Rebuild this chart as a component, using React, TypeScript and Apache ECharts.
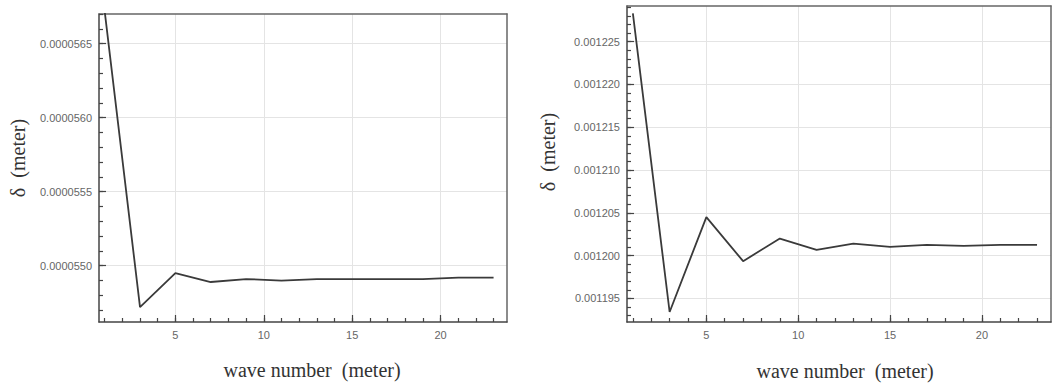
import React, { useEffect, useRef } from "react";
import * as echarts from "echarts";

// ---- data ----
const waveNumbers = [1, 3, 5, 7, 9, 11, 13, 15, 17, 19, 21, 23];
const deltaLeft = [
  0.00005672, 0.00005472, 0.00005495, 0.00005489, 0.00005491, 0.0000549,
  0.00005491, 0.00005491, 0.00005491, 0.00005491, 0.00005492, 0.00005492,
];
const deltaRight = [
  0.00122832, 0.00119341, 0.0012045, 0.00119935, 0.00120199, 0.00120067,
  0.0012014, 0.00120102, 0.00120125, 0.00120114, 0.00120125, 0.00120125,
];
const xTickLabels = [5, 10, 15, 20];
const yTickLabelsLeft = [0.000055, 0.0000555, 0.000056, 0.0000565];
const yTickLabelsRight = [0.001195, 0.0012, 0.001205, 0.00121, 0.001215, 0.00122, 0.001225];
const xTitle = "wave number  (meter)";
const yTitle = "δ  (meter)";

const xMin = 0.68;
const xMax = 23.76;
const yRangeLeft = [0.00005462, 0.0000567];
const yRangeRight = [0.00119224, 0.00122917];

const xMinorTicks: number[] = [];
for (let i = 1; i <= 23; i++) xMinorTicks.push(i);
const yMinorLeft: number[] = [];
for (let k = 547; k <= 567; k++) yMinorLeft.push(k * 1e-7);
const yMinorRight: number[] = [];
for (let k = 1193; k <= 1229; k++) yMinorRight.push(k * 1e-6);

const AXIS = "#444";
const FRAME = "#666";
const GRIDLINE = "#e4e4e4";
const LABEL = "#666";
const LINE = "#3a3a3a";
const labelFont = { color: LABEL, fontSize: 11, fontFamily: "Liberation Sans, Arial, sans-serif" };

function xAxesFor(gridIndex: number) {
  return [
    {
      gridIndex,
      type: "value",
      position: "bottom",
      min: xMin,
      max: xMax,
      axisLine: { show: true, onZero: false, lineStyle: { color: AXIS, width: 1.5 } },
      axisTick: { show: true, inside: true, length: 4, customValues: xMinorTicks, lineStyle: { color: AXIS, width: 1.2 } },
      axisLabel: { ...labelFont, margin: 7, customValues: xTickLabels, formatter: (v: number) => String(v) },
      splitLine: { show: false },
    },
    {
      gridIndex,
      type: "value",
      position: "bottom",
      min: xMin,
      max: xMax,
      axisLine: { show: false, onZero: false },
      axisTick: { show: true, inside: true, length: 7, customValues: xTickLabels, lineStyle: { color: AXIS, width: 1.2 } },
      axisLabel: { show: false },
      splitLine: { show: true, lineStyle: { color: GRIDLINE, width: 1 } },
    },
    {
      gridIndex,
      type: "value",
      position: "top",
      min: xMin,
      max: xMax,
      axisLine: { show: true, onZero: false, lineStyle: { color: FRAME, width: 1.5 } },
      axisTick: { show: false },
      axisLabel: { show: false },
      splitLine: { show: false },
    },
  ];
}

function yAxesFor(gridIndex: number, range: number[], minor: number[], major: number[], digits: number) {
  return [
    {
      gridIndex,
      type: "value",
      position: "left",
      min: range[0],
      max: range[1],
      axisLine: { show: true, onZero: false, lineStyle: { color: AXIS, width: 1.5 } },
      axisTick: { show: true, inside: true, length: 4, customValues: minor, lineStyle: { color: AXIS, width: 1.2 } },
      axisLabel: { ...labelFont, margin: 7, customValues: major, formatter: (v: number) => v.toFixed(digits) },
      splitLine: { show: false },
    },
    {
      gridIndex,
      type: "value",
      position: "left",
      min: range[0],
      max: range[1],
      axisLine: { show: false, onZero: false },
      axisTick: { show: true, inside: true, length: 7, customValues: major, lineStyle: { color: AXIS, width: 1.2 } },
      axisLabel: { show: false },
      splitLine: { show: true, lineStyle: { color: GRIDLINE, width: 1 } },
    },
    {
      gridIndex,
      type: "value",
      position: "right",
      min: range[0],
      max: range[1],
      axisLine: { show: true, onZero: false, lineStyle: { color: FRAME, width: 1.5 } },
      axisTick: { show: false },
      axisLabel: { show: false },
      splitLine: { show: false },
    },
  ];
}

const titleFont = "20px 'Liberation Serif', 'DejaVu Serif', serif";

export default function App() {
  const ref = useRef<HTMLDivElement>(null);
  useEffect(() => {
    if (!ref.current) return;
    const chart = echarts.init(ref.current, undefined, { renderer: "svg" });
    chart.setOption({
      animation: false,
      backgroundColor: "#ffffff",
      grid: [
        { left: 99, top: 14, width: 408, height: 308 },
        { left: 627, top: 6, width: 424, height: 316 },
      ],
      xAxis: [...xAxesFor(0), ...xAxesFor(1)],
      yAxis: [
        ...yAxesFor(0, yRangeLeft, yMinorLeft, yTickLabelsLeft, 7),
        ...yAxesFor(1, yRangeRight, yMinorRight, yTickLabelsRight, 6),
      ],
      series: [
        {
          type: "line",
          xAxisIndex: 0,
          yAxisIndex: 0,
          data: waveNumbers.map((x, i) => [x, deltaLeft[i]]),
          showSymbol: false,
          clip: true,
          lineStyle: { color: LINE, width: 1.8 },
        },
        {
          type: "line",
          xAxisIndex: 3,
          yAxisIndex: 3,
          data: waveNumbers.map((x, i) => [x, deltaRight[i]]),
          showSymbol: false,
          clip: true,
          lineStyle: { color: LINE, width: 1.8 },
        },
      ],
      graphic: [
        { type: "text", x: 312, y: 370, style: { text: xTitle, font: titleFont, fill: "#333", align: "center", verticalAlign: "middle" } },
        { type: "text", x: 845, y: 371, style: { text: xTitle, font: titleFont, fill: "#333", align: "center", verticalAlign: "middle" } },
        { type: "text", x: 18, y: 158, rotation: Math.PI / 2, style: { text: yTitle, font: titleFont, fill: "#333", align: "center", verticalAlign: "middle" } },
        { type: "text", x: 548, y: 152, rotation: Math.PI / 2, style: { text: yTitle, font: titleFont, fill: "#333", align: "center", verticalAlign: "middle" } },
      ],
    });
    return () => chart.dispose();
  }, []);
  return (
    <div
      ref={ref}
      style={{ position: "absolute", left: 0, top: 0, width: 1064, height: 389, background: "#fff" }}
    />
  );
}
